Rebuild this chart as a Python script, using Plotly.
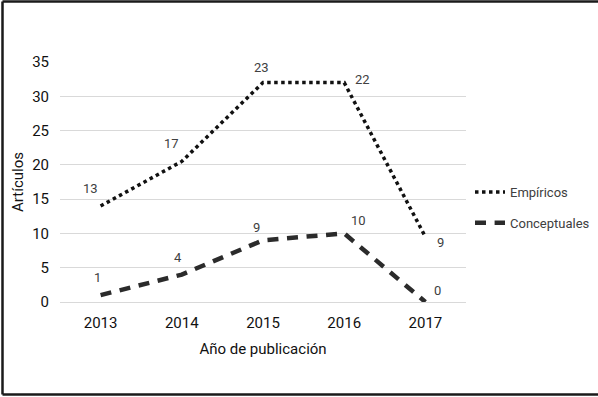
import plotly.graph_objects as go

years = ["2013", "2014", "2015", "2016", "2017"]
empiricos = [14, 20.5, 32, 32, 9.5]
empiricos_labels = ["13", "17", "23", "22", "9"]
conceptuales = [1, 4, 9, 10, 0]
conceptuales_labels = ["1", "4", "9", "10", "0"]
y_ticks = [0, 5, 10, 15, 20, 25, 30, 35]

NARROW = "Liberation Sans Narrow, Arial Narrow, Roboto, sans-serif"

fig = go.Figure()
fig.add_trace(go.Scatter(
    x=years, y=empiricos, mode="lines", name="Empíricos",
    line=dict(color="#111111", width=3.5, dash="dot"),
    legendgroup="e", cliponaxis=False,
))
fig.add_trace(go.Scatter(
    x=years, y=conceptuales, mode="lines", name="Conceptuales",
    line=dict(color="#2b2b2b", width=4.5, dash="11px,8.6px"),
    legendgroup="c", cliponaxis=False,
))

emp_shifts = [(-10, 18), (-10, 18), (-2, 15), (18, 3), (15, -6)]
con_shifts = [(-3, 18), (-4, 17), (-7, 13), (14, 13), (12, 12)]
for i, (yv, t, (dx, dy)) in enumerate(zip(empiricos, empiricos_labels, emp_shifts)):
    fig.add_annotation(x=i, y=yv, text=t, showarrow=False, xshift=dx, yshift=dy,
                       font=dict(family=NARROW, size=13, color="#404040"))
for i, (yv, t, (dx, dy)) in enumerate(zip(conceptuales, conceptuales_labels, con_shifts)):
    fig.add_annotation(x=i, y=yv, text=t, showarrow=False, xshift=dx, yshift=dy,
                       font=dict(family=NARROW, size=13, color="#404040"))

# outer frame (left, top, bottom)
L, T, B = 60, 62, 302
W, H = 406, 240
def px(xp):
    return (xp - L) / W
def py(yp):
    return (B - yp) / H
for x0, y0, x1, y1 in [(2.5, 1.5, 2.5, 394.5), (2.5, 1.5, 700, 1.5), (2.5, 394.5, 700, 394.5)]:
    fig.add_shape(type="line", xref="paper", yref="paper",
                  x0=px(x0), y0=py(y0), x1=px(x1), y1=py(y1),
                  line=dict(color="#1a1a1a", width=2.5))

fig.update_layout(
    width=598, height=397,
    margin=dict(l=L, r=598 - L - W, t=T, b=397 - B, autoexpand=False),
    paper_bgcolor="white", plot_bgcolor="white",
    showlegend=True,
    legend=dict(x=px(470), y=py(177), xanchor="left", yanchor="top",
                font=dict(family=NARROW, size=13, color="#404040"),
                tracegroupgap=11, bgcolor="rgba(0,0,0,0)"),
    xaxis=dict(type="category", range=[-0.5, 4.5], showgrid=False, showline=False,
               zeroline=False, ticks="", ticklabelstandoff=10,
               tickfont=dict(family=NARROW, size=15, color="#111111"),
               title=dict(text="Año de publicación", standoff=12,
                          font=dict(family=NARROW, size=15, color="#111111"))),
    yaxis=dict(range=[0, 35], tickvals=y_ticks, showgrid=True, gridcolor="#d9d9d9",
               gridwidth=1, zeroline=True, zerolinecolor="#d9d9d9", zerolinewidth=1,
               showline=False, ticks="", ticklabelstandoff=10,
               tickfont=dict(family=NARROW, size=15, color="#111111"),
               title=dict(text="Artículos", standoff=4,
                          font=dict(family=NARROW, size=15, color="#111111"))),
)

fig.write_html("out.html", config={"displayModeBar": False},
               post_script="document.body.style.margin='0';document.body.style.overflow='hidden';")
